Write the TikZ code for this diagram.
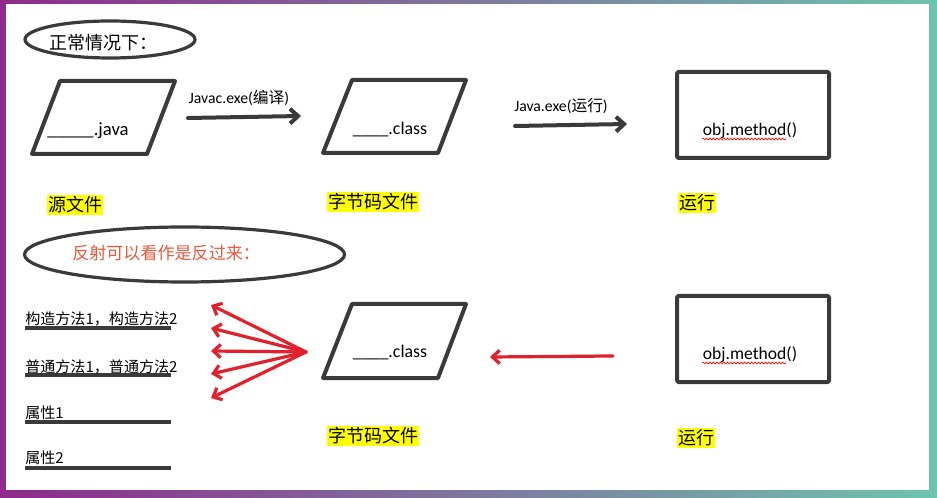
\documentclass[tikz,border=0pt]{standalone}
\usepackage{fontspec}
\setmainfont{Carlito}
\newfontfamily\cjk{Noto Sans CJK SC}
\usetikzlibrary{arrows.meta,decorations.pathmorphing}
\definecolor{ink}{HTML}{3A3A3A}
\definecolor{redar}{HTML}{E2202C}
\definecolor{orangetxt}{HTML}{E8583C}
\definecolor{frameL}{HTML}{8E2A8C}
\definecolor{frameR}{HTML}{6EC4AE}
\definecolor{hl}{HTML}{FFFF00}
\begin{document}
\begin{tikzpicture}[x=0.75pt,y=-0.75pt,
  shapeline/.style={draw=ink,line width=3pt,line join=round},
  ovalline/.style={draw=ink,line width=2.4pt},
  blackarrow/.style={draw=ink,line width=3pt,line cap=round,-{Straight Barb[length=6pt,width=11pt]}},
  redarrow/.style={draw=redar,line width=2.4pt,line cap=round,-{Straight Barb[length=5.5pt,width=10pt]}},
  hlbox/.style={fill=hl,inner sep=1pt,font=\cjk\fontsize{13.5pt}{15pt}\selectfont},
  javatxt/.style={inner sep=0pt,font=\fontsize{14pt}{16pt}\selectfont},
  clstxt/.style={inner sep=0pt,font=\fontsize{13.4pt}{15pt}\selectfont},
  objtxt/.style={inner sep=0pt,font=\fontsize{13.2pt}{15pt}\selectfont},
  small/.style={inner sep=0pt,font=\fontsize{11.8pt}{13pt}\selectfont},
  listtxt/.style={inner sep=0pt,anchor=west,font=\cjk\fontsize{11.3pt}{13pt}\selectfont},
  uline/.style={draw=ink,line width=2.4pt},
  wavy/.style={draw=red,line width=0.5pt,decorate,decoration={snake,amplitude=0.7pt,segment length=2.6pt}}]
\useasboundingbox (0,0) rectangle (937,498);
% frame
\shade[left color=frameL,right color=frameR] (0,0) rectangle (937,498);
\fill[white] (6,4) rectangle (929,490);

% ---------- top row ----------
\draw[ovalline] (110,39.5) ellipse [x radius=85, y radius=18.5];
\node[inner sep=0pt,anchor=west,font=\cjk\fontsize{13.5pt}{15pt}\selectfont] (t1) at (49,43) {正常情况下：};

\draw[shapeline] (60,81) -- (175,81) -- (147,154) -- (32,154) -- cycle;
\node[javatxt] (java) at (88,131) {\_\_\_\_\_.java};

\coordinate (a1s) at (188,118);
\coordinate (a1e) at (301,116);
\draw[blackarrow] (a1s) -- (a1e);
\node[small] (l1) at (239,98) {Javac.exe({\cjk 编译})};

\draw[shapeline] (352,80) -- (466,80) -- (438,153) -- (323,153) -- cycle;
\node[clstxt] (cls1) at (390,130) {\_\_\_\_.class};

\coordinate (a2s) at (515,126);
\coordinate (a2e) at (627,124);
\draw[blackarrow] (a2s) -- (a2e);
\node[small] (l2) at (561,106) {Java.exe({\cjk 运行})};

\draw[shapeline,rounded corners=1pt] (677,72) rectangle (829,158);
\node[objtxt] (obj1) at (750,131) {obj.method()};
\coordinate (w1s) at (702,139);
\coordinate (w1e) at (786,139);
\draw[wavy] (w1s) -- (w1e);

\node[hlbox] (src) at (75,205) {源文件};
\node[hlbox] (bc1) at (373,202) {字节码文件};
\node[hlbox] (run1) at (697,203) {运行};

% ---------- bottom row ----------
\draw[ovalline] (184.5,254.5) ellipse [x radius=160, y radius=27.5];
\node[inner sep=0pt,anchor=west,text=orangetxt,font=\cjk\fontsize{12.8pt}{15pt}\selectfont] (t2) at (72,253) {反射可以看作是反过来：};

\node[listtxt] (c1) at (25,319) {构造方法1，构造方法2};
\draw[uline] (25,328) -- (171,328);
\node[listtxt] (c2) at (25,367) {普通方法1，普通方法2};
\draw[uline] (25,375) -- (171,375);
\node[listtxt] (c3) at (25,413) {属性1};
\draw[uline] (25,422) -- (171,422);
\node[listtxt] (c4) at (25,458) {属性2};
\draw[uline] (25,468) -- (171,468);

\coordinate (hub) at (306,352);
\coordinate (r1) at (211,305);
\coordinate (r2) at (211,328);
\coordinate (r3) at (211,351);
\coordinate (r4) at (211,374);
\coordinate (r5) at (211,398);
\foreach \t in {r1,r2,r3,r4,r5} \draw[redarrow] (hub) -- (\t);

\draw[shapeline] (352,304) -- (466,304) -- (438,378) -- (323,378) -- cycle;
\node[clstxt] (cls2) at (390,352) {\_\_\_\_.class};

\coordinate (b1s) at (613,356);
\coordinate (b1e) at (490,357);
\draw[redarrow] (b1s) -- (b1e);

\draw[shapeline,rounded corners=1pt] (677,296) rectangle (829,382);
\node[objtxt] (obj2) at (750,355) {obj.method()};
\coordinate (w2s) at (702,363);
\coordinate (w2e) at (786,363);
\draw[wavy] (w2s) -- (w2e);

\node[hlbox] (bc2) at (373,436) {字节码文件};
\node[hlbox] (run2) at (696,438) {运行};
\end{tikzpicture}
\end{document}
